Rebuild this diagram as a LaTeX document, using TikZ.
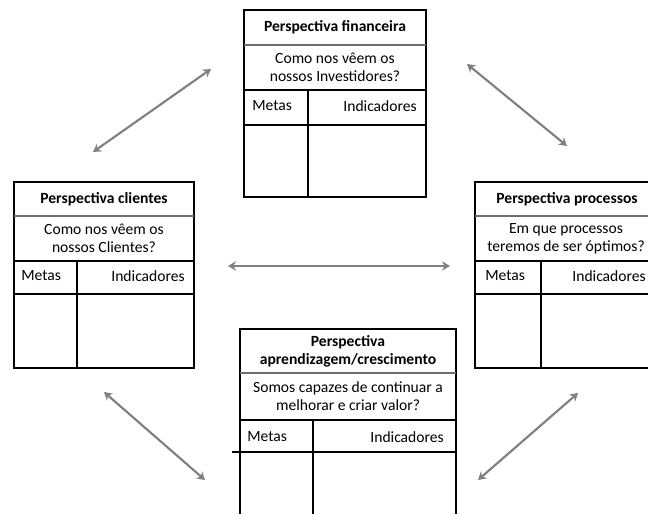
\documentclass[tikz,border=0pt]{standalone}
\usepackage{fontspec}
\setmainfont{Carlito}
\usepackage{xcolor}
\usetikzlibrary{arrows.meta}
\definecolor{linkgray}{RGB}{128,128,128}
\definecolor{hdrgray}{RGB}{110,110,110}
\newcommand{\boxfont}{\fontsize{11.7}{13.6}\selectfont}
\tikzset{
  frame/.style={draw=black, line width=2.2pt},
  rowline/.style={draw=black, line width=0.8pt},
  hdrline/.style={draw=hdrgray, line width=1.2pt},
  hdrtext/.style={font=\boxfont\bfseries, align=center, inner sep=0pt},
  qtext/.style={font=\boxfont, align=center, inner sep=0pt},
  celltext/.style={font=\boxfont, inner sep=0pt},
  linkarrow/.style={{Stealth[length=6pt,width=7pt,inset=2pt]}-{Stealth[length=6pt,width=7pt,inset=2pt]}, line width=1.6pt, color=linkgray}
}

\begin{document}
\begin{tikzpicture}[x=0.75pt, y=-0.75pt]
  \useasboundingbox (0,0) rectangle (648,513);
  \clip (0,0) rectangle (648,513);
  \fill[white] (0,0) rectangle (648,513);

  % Financeira (top)
  \draw[frame] (244,10) rectangle (426,197);
  \draw[hdrline] (244,45) -- (426,45);
  \draw[rowline] (244,90) -- (426,90);
  \draw[rowline] (244,125) -- (426,125);
  \draw[rowline] (308,90) -- (308,197);
  \node[hdrtext] (finhdr) at (335,27) {Perspectiva financeira};
  \node[qtext] (finq) at (335,67.5) {Como nos vêem os\\nossos Investidores?};
  \node[celltext, anchor=west] (finmetas) at (252,106) {Metas};
  \node[celltext, anchor=east] (finind) at (417,106) {Indicadores};

  % Clientes (left)
  \draw[frame] (14,182) rectangle (194,368);
  \draw[hdrline] (14,216) -- (194,216);
  \draw[rowline] (14,261) -- (194,261);
  \draw[rowline] (14,294) -- (194,294);
  \draw[rowline] (77,261) -- (77,368);
  \node[hdrtext] (clihdr) at (104,199) {Perspectiva clientes};
  \node[qtext] (cliq) at (104,238.5) {Como nos vêem os\\nossos Clientes?};
  \node[celltext, anchor=west] (climetas) at (21,276) {Metas};
  \node[celltext, anchor=east] (cliind) at (185,276) {Indicadores};

  % Processos (right)
  \draw[frame] (475,182) rectangle (655,368);
  \draw[hdrline] (475,216) -- (655,216);
  \draw[rowline] (475,261) -- (655,261);
  \draw[rowline] (475,294) -- (655,294);
  \draw[rowline] (541,261) -- (541,368);
  \node[hdrtext] (prohdr) at (567,199) {Perspectiva processos};
  \node[qtext] (proq) at (566,238.5) {Em que processos\\teremos de ser óptimos?};
  \node[celltext, anchor=west] (prometas) at (485,276) {Metas};
  \node[celltext, anchor=east] (proind) at (646,276) {Indicadores};

  % Aprendizagem (bottom)
  \draw[frame] (240,329) rectangle (456,560);
  \draw[hdrline] (240,373) -- (456,373);
  \draw[rowline] (240,420) -- (456,420);
  \draw[rowline] (232,452) -- (456,452);
  \draw[rowline] (313,420) -- (313,560);
  \node[hdrtext] (aprhdr) at (348,351) {Perspectiva\\aprendizagem/crescimento};
  \node[qtext] (aprq) at (348,396.5) {Somos capazes de continuar a\\melhorar e criar valor?};
  \node[celltext, anchor=west] (aprmetas) at (247,437) {Metas};
  \node[celltext, anchor=east] (aprind) at (444,437) {Indicadores};

  % Arrow ends
  \coordinate (clitop) at (93,152);
  \coordinate (finleft) at (211,69);
  \coordinate (finright) at (467,64);
  \coordinate (protop) at (567,146);
  \coordinate (cliright) at (228,266);
  \coordinate (proleft) at (450,266);
  \coordinate (clibot) at (104,392);
  \coordinate (aprleft) at (205,480);
  \coordinate (probot) at (578,393);
  \coordinate (aprright) at (478,480);

  % Links
  \draw[linkarrow] (clitop) -- (finleft);
  \draw[linkarrow] (finright) -- (protop);
  \draw[linkarrow] (cliright) -- (proleft);
  \draw[linkarrow] (clibot) -- (aprleft);
  \draw[linkarrow] (probot) -- (aprright);

\end{tikzpicture}
\end{document}
